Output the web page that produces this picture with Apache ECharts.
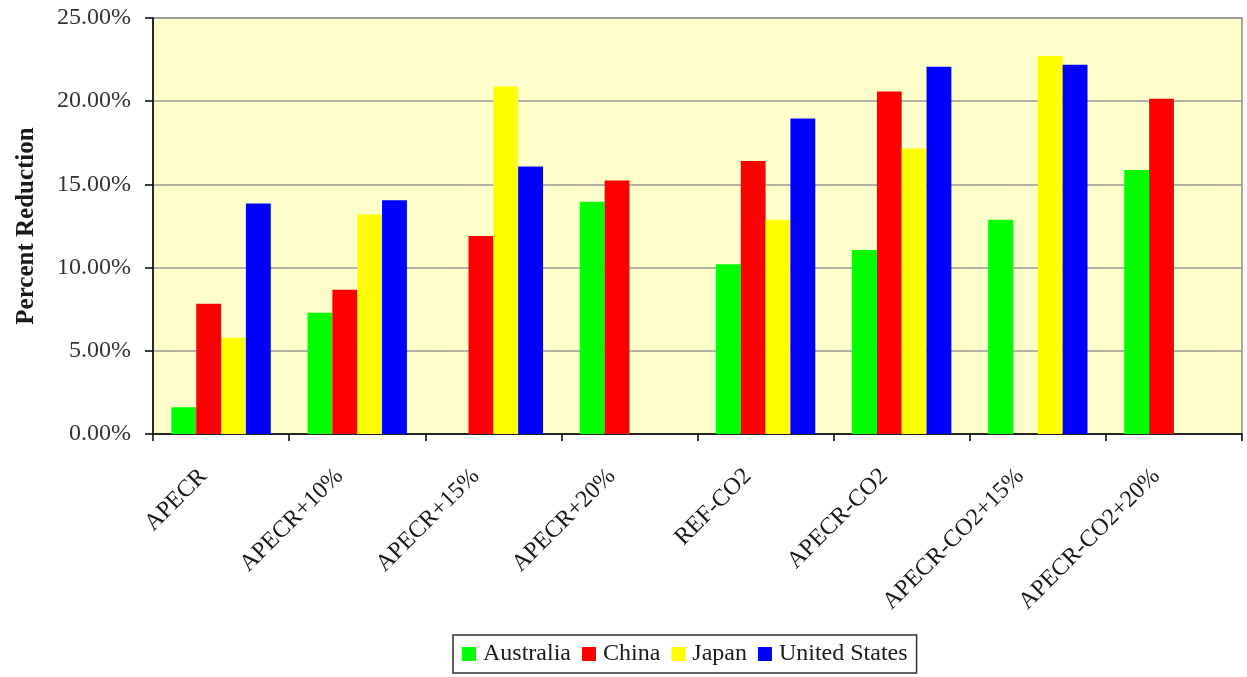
<!DOCTYPE html>
<html>
<head>
<meta charset="utf-8">
<script src="https://cdn.jsdelivr.net/npm/echarts@6/dist/echarts.min.js"></script>
<style>
  html, body { margin: 0; padding: 0; background: #ffffff; }
  #chart { width: 1247px; height: 677px; }
</style>
</head>
<body>
<div id="chart"></div>
<script>
// Scenarios on the category axis
const categories = ['APECR', 'APECR+10%', 'APECR+15%', 'APECR+20%', 'REF-CO2', 'APECR-CO2', 'APECR-CO2+15%', 'APECR-CO2+20%'];

// Percent reduction per country (null = no bar for that scenario)
const australia    = [1.61, 7.29, null, 13.95, 10.20, 11.06, 12.87, 15.87];
const china        = [7.83, 8.67, 11.90, 15.23, 16.40, 20.59, null, 20.14];
const japan        = [5.79, 13.19, 20.89, null, 12.87, 17.16, 22.71, null];
const unitedStates = [13.85, 14.05, 16.08, null, 18.96, 22.07, 22.19, null];

const yTicks = [0, 5, 10, 15, 20, 25];

const seriesDefs = [
  { name: 'Australia', data: australia, color: '#00FF00' },
  { name: 'China', data: china, color: '#FF0000' },
  { name: 'Japan', data: japan, color: '#FFFF00' },
  { name: 'United States', data: unitedStates, color: '#0000FF' }
];

const serif = '"Liberation Serif", "DejaVu Serif", serif';
const textColor = '#1a1a1a';

const chart = echarts.init(document.getElementById('chart'));
chart.setOption({
  animation: false,
  backgroundColor: '#ffffff',
  grid: {
    left: 153, right: 5, top: 18, bottom: 243,
    show: true,
    backgroundColor: '#FFFFCC',
    borderColor: '#8c8c8c',
    borderWidth: 1.5
  },
  legend: {
    left: 453, top: 635,
    itemWidth: 14, itemHeight: 14, itemGap: 11,
    padding: [7, 9, 7, 9],
    borderColor: '#333333', borderWidth: 1.5,
    icon: 'rect',
    textStyle: { fontFamily: serif, fontSize: 24, color: textColor, padding: [0, 0, 0, 2] },
    data: seriesDefs.map(s => s.name)
  },
  xAxis: {
    type: 'category',
    data: categories,
    boundaryGap: true,
    axisLine: { lineStyle: { color: '#000000', width: 1.5 } },
    axisTick: { show: true, inside: false, length: 7, alignWithLabel: false, lineStyle: { color: '#000000', width: 1.5 } },
    axisLabel: {
      interval: 0, rotate: 45, margin: 21,
      padding: [0, 25, 0, 0],
      fontFamily: serif, fontSize: 24, color: textColor
    },
    splitLine: { show: false }
  },
  yAxis: {
    type: 'value',
    min: yTicks[0], max: yTicks[yTicks.length - 1], interval: 5,
    name: 'Percent Reduction',
    nameLocation: 'middle',
    nameGap: 114,
    nameRotate: 90,
    nameTextStyle: { fontFamily: serif, fontSize: 25, fontWeight: 'bold', color: textColor },
    axisLine: { show: true, lineStyle: { color: '#000000', width: 1.5 } },
    axisTick: { show: true, inside: false, length: 8, lineStyle: { color: '#000000', width: 1.5 } },
    axisLabel: {
      margin: 22,
      fontFamily: serif, fontSize: 24, color: '#333333',
      formatter: v => v.toFixed(2) + '%'
    },
    splitLine: { show: true, lineStyle: { color: '#999999', width: 1.5 } }
  },
  series: seriesDefs.map(s => ({
    name: s.name,
    type: 'bar',
    data: s.data,
    barGap: '0%',
    barCategoryGap: '27%',
    itemStyle: { color: s.color }
  }))
});
</script>
</body>
</html>
